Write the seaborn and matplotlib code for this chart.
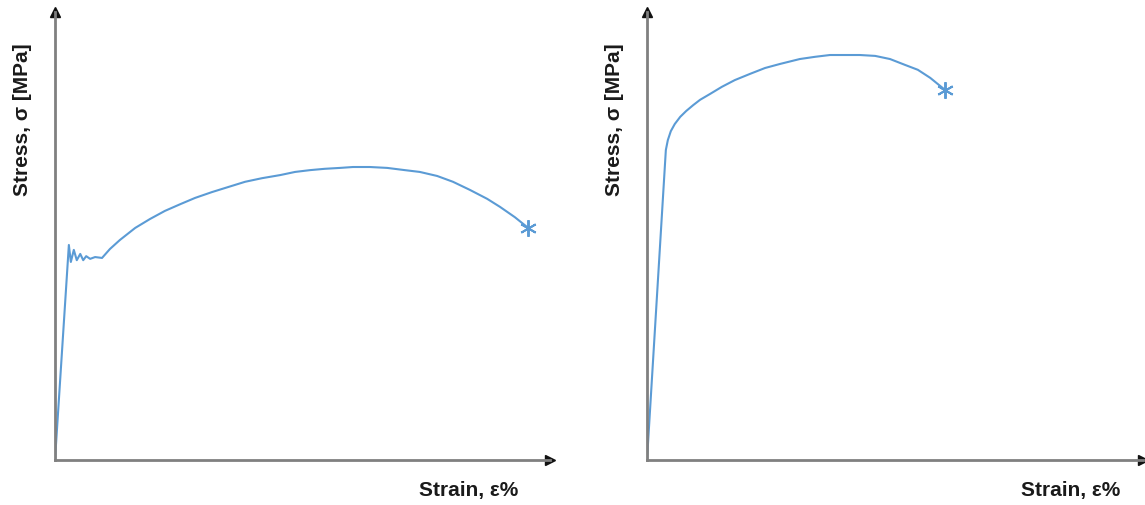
import matplotlib
matplotlib.use("Agg")
import matplotlib.pyplot as plt
import seaborn as sns
import pandas as pd

# Mild steel: elastic line, upper/lower yield point, strain hardening, necking
mild_strain = [0, 2.8, 3.2, 3.8, 4.4, 5.1, 5.7, 6.3, 7.1, 8.1, 9.5,
               11.1, 13.1, 16.2, 19.2, 22.2, 25.3, 28.3, 31.7, 34.9, 38.4,
               41.8, 45.5, 48.5, 51.5, 54.5, 57.6, 60.2, 63.6, 67.1, 70.7,
               73.7, 77.2, 80.4, 83.8, 87.3, 89.9, 92.9, 95.6]
mild_stress = [0, 48.0, 44.2, 46.9, 44.6, 46.0, 44.6, 45.5, 44.9, 45.3, 45.1,
               47.1, 49.1, 51.8, 53.8, 55.6, 57.1, 58.5, 59.8, 60.9, 62.1,
               62.9, 63.6, 64.3, 64.7, 65.0, 65.2, 65.4, 65.4, 65.2, 64.7,
               64.3, 63.4, 62.1, 60.3, 58.3, 56.5, 54.2, 51.8]

# High-strength material: no distinct yield point, earlier fracture
hard_strain = [0, 3.8, 4.2, 4.8, 5.6, 6.7, 7.9, 9.3, 10.7, 12.7, 15.1, 17.7,
               20.8, 23.8, 26.8, 30.8, 33.9, 36.9, 39.9, 42.9, 46.0, 49.0,
               52.0, 54.6, 57.1, 60.1]
hard_stress = [0, 69.2, 71.4, 73.4, 75.0, 76.6, 77.9, 79.2, 80.4, 81.7, 83.3,
               84.8, 86.2, 87.5, 88.4, 89.5, 90.0, 90.4, 90.4, 90.4, 90.2,
               89.5, 88.2, 87.1, 85.3, 82.6]

y_label = "Stress, σ [MPa]"
x_label = "Strain, ε%"

curve_color = "#5b9bd5"
axis_color = "#808080"
text_color = "#1a1a1a"

sns.set_style("white")
plt.rcParams["font.family"] = ["Liberation Sans", "DejaVu Sans"]

fig = plt.figure(figsize=(11.45, 5.05), dpi=100)
ax_left = fig.add_axes([55 / 1145, 45 / 505, 495 / 1145, 448 / 505])
ax_right = fig.add_axes([647 / 1145, 45 / 505, 496 / 1145, 448 / 505])

panels = [
    (ax_left, mild_strain, mild_stress),
    (ax_right, hard_strain, hard_stress),
]

for ax, strain, stress in panels:
    df = pd.DataFrame({"strain": strain, "stress": stress})
    sns.lineplot(data=df, x="strain", y="stress", ax=ax, sort=False,
                 color=curve_color, linewidth=1.5, estimator=None)
    # fracture point
    ax.plot(strain[-1], stress[-1], marker=(6, 2, 0), markersize=12,
            color=curve_color, markeredgewidth=1.4, linestyle="none")

    ax.set_xlim(0, 100)
    ax.set_ylim(0, 100)
    ax.set_xticks([])
    ax.set_yticks([])
    ax.set_xlabel("")
    ax.set_ylabel("")
    for side in ("top", "right"):
        ax.spines[side].set_visible(False)
    for side in ("left", "bottom"):
        ax.spines[side].set_color(axis_color)
        ax.spines[side].set_linewidth(2)
    # arrow heads on the axes
    ax.plot(1, 0, marker=">", markersize=7, color="#111111",
            transform=ax.transAxes, clip_on=False)
    ax.plot(0, 1, marker="^", markersize=7, color="#111111",
            transform=ax.transAxes, clip_on=False)

    ax.text(-0.065, 0.76, y_label, transform=ax.transAxes, rotation=90,
            ha="center", va="center", fontsize=15, fontweight="bold",
            color=text_color)

ax_left.text(0.836, -0.067, x_label, transform=ax_left.transAxes,
             ha="center", va="center", fontsize=15, fontweight="bold",
             color=text_color)
ax_right.text(0.855, -0.067, x_label, transform=ax_right.transAxes,
              ha="center", va="center", fontsize=15, fontweight="bold",
              color=text_color)

fig.savefig("out.png", dpi=100)
